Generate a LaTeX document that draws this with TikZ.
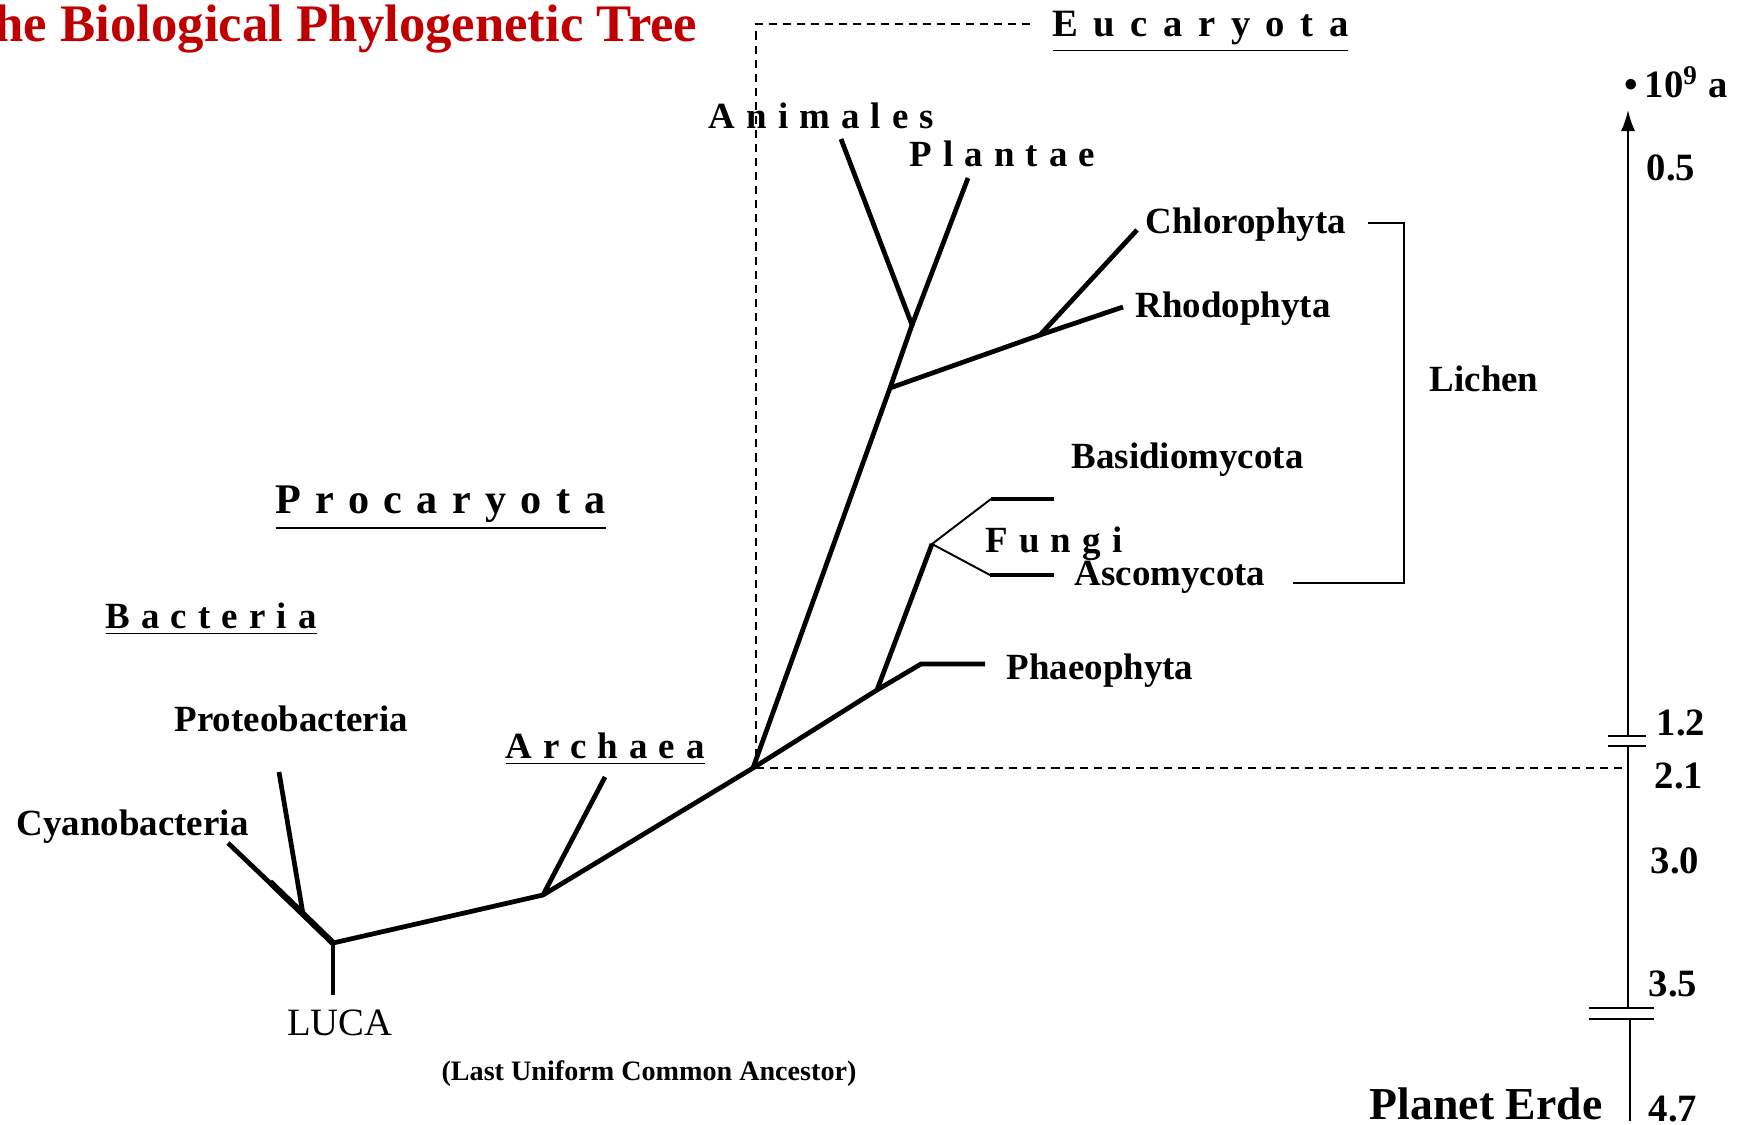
\documentclass[tikz,border=0pt]{standalone}
\usepackage{fontspec}
\setmainfont{Liberation Serif}
\usetikzlibrary{arrows.meta, positioning}
\definecolor{titlered}{RGB}{192,0,0}

\begin{document}
\begin{tikzpicture}[x=0.01cm, y=-0.01cm,
        branch/.style={line width=1.35pt},
        twig/.style={line width=0.55pt},
        guide/.style={line width=0.45pt, dash pattern=on 2.3pt off 1.7pt},
        taxon/.style={font=\fontsize{10.5}{12}\selectfont\bfseries, inner sep=0pt, anchor=base west},
        group/.style={font=\fontsize{10.5}{12}\selectfont\bfseries\addfontfeature{LetterSpace=30}, inner sep=0pt, anchor=base west},
        age/.style={font=\fontsize{11}{13}\selectfont\bfseries, inner sep=0pt, anchor=base west}]

        \useasboundingbox (0,0) rectangle (1740,1125);

        % tree points
        \coordinate (luca) at (333,943);
        \coordinate (lucastem) at (333,995);
        \coordinate (cyanotip) at (228,843);
        \coordinate (cyanofork) at (270,882);
        \coordinate (proteofork) at (303,914);
        \coordinate (proteotip) at (279,772);
        \coordinate (archfork) at (543,895);
        \coordinate (archtip) at (605,777);
        \coordinate (euroot) at (753,768);
        \coordinate (phaefork) at (877,690);
        \coordinate (phaebend) at (921,664);
        \coordinate (phaetip) at (985,664);
        \coordinate (fungifork) at (932,544);
        \coordinate (basbend) at (991,499);
        \coordinate (bastip) at (1054,499);
        \coordinate (ascbend) at (990,575);
        \coordinate (asctip) at (1054,575);
        \coordinate (eufork) at (890,388);
        \coordinate (animfork) at (912,325);
        \coordinate (animtip) at (841,139);
        \coordinate (planttip) at (968,178);
        \coordinate (rhodofork) at (1040,335);
        \coordinate (rhodotip) at (1123,307);
        \coordinate (chlorotip) at (1137,230);

        % labels
        \node [font=\fontsize{15}{18}\selectfont\bfseries, text=titlered, inner sep=0pt, anchor=base east] (title) at (698,42) {The Biological Phylogenetic Tree};
        \node [group, font=\fontsize{11}{13}\selectfont\bfseries\addfontfeature{LetterSpace=40}] (euca) at (1052,37) {\underline{Eucaryota}};
        \node [group, font=\fontsize{12}{14}\selectfont\bfseries\addfontfeature{LetterSpace=34}] (proca) at (275,514) {\underline{Procaryota}};
        \node [group] (bact) at (105,628) {\underline{Bacteria}};
        \node [group] (arch) at (505,758) {\underline{Archaea}};
        \node [group] (anim) at (708,129) {Animales};
        \node [group] (plant) at (909,167) {Plantae};
        \node [group] (fungi) at (985,552) {Fungi};
        \node [taxon] (proteo) at (174,731) {Proteobacteria};
        \node [taxon] (cyano) at (16,835) {Cyanobacteria};
        \node [taxon] (chloro) at (1145,234) {Chlorophyta};
        \node [taxon] (rhodo) at (1135,318) {Rhodophyta};
        \node [taxon] (basid) at (1071,469) {Basidiomycota};
        \node [taxon] (asco) at (1074,586) {Ascomycota};
        \node [taxon] (phaeo) at (1006,679) {Phaeophyta};
        \node [taxon] (lichen) at (1429,392) {Lichen};
        \node [font=\fontsize{11}{13}\selectfont, inner sep=0pt, anchor=base] (lucalbl) at (340,1035) {LUCA};
        \node [font=\fontsize{8}{10}\selectfont\bfseries, inner sep=0pt, anchor=base] (lucanote) at (649,1080) {(Last Uniform Common Ancestor)};
        \node [font=\fontsize{13}{15}\selectfont\bfseries, inner sep=0pt, anchor=base east] (erde) at (1603,1119) {Planet Erde};

        % tree
        \draw [branch] (cyanotip) -- (luca) -- (archfork) -- (euroot) -- (eufork) -- (animfork) -- (animtip);
        \draw [line width=1.8pt] (cyanofork) -- (luca);
        \draw [branch] (luca) -- (lucastem);
        \draw [branch] (proteotip) -- (proteofork);
        \draw [branch] (archfork) -- (archtip);
        \draw [branch] (euroot) -- (phaefork) -- (phaebend) -- (phaetip);
        \draw [branch] (phaefork) -- (fungifork);
        \draw [twig] (basbend) -- (fungifork) -- (ascbend);
        \draw [branch] (basbend) -- (bastip);
        \draw [branch] (ascbend) -- (asctip);
        \draw [branch] (animfork) -- (planttip);
        \draw [branch] (eufork) -- (rhodofork) -- (rhodotip);
        \draw [branch] (rhodofork) -- (chlorotip);

        % Eucaryota frame
        \coordinate (frametop) at (756,24);
        \coordinate (frameend) at (1032,24);
        \coordinate (axmark) at (1626,768);
        \draw [guide] (euroot) -- (756,768) -- (frametop) -- (frameend);
        \draw [guide] (756,768) -- (axmark);

        % Lichen bracket
        \draw [twig] (1368,223) -- (1404,223) -- (1404,583) -- (1293,583);

        % time axis
        \coordinate (axtop) at (1628,110);
        \coordinate (brkAhi) at (1628,736);
        \coordinate (brkAlo) at (1628,746);
        \coordinate (brkBhi) at (1628,1008);
        \coordinate (brkBlo) at (1630,1019);
        \coordinate (axbot) at (1630,1121);
        \draw [twig, -{Latex[length=6pt,width=4pt]}] (brkAhi) -- (axtop);
        \draw [twig] (brkAlo) -- (brkBhi);
        \draw [twig] (brkBlo) -- (axbot);
        \draw [twig] (1608,736) -- (1646,736) (1608,746) -- (1646,746);
        \draw [twig] (1589,1008) -- (1654,1008) (1589,1019) -- (1654,1019);

        \node [age] (unit) at (1624,98) {•\,10\textsuperscript{9} a};
        \node [age] (t05) at (1646,181) {0.5};
        \node [age] (t12) at (1656,735) {1.2};
        \node [age] (t21) at (1654,788) {2.1};
        \node [age] (t30) at (1650,873) {3.0};
        \node [age] (t35) at (1648,996) {3.5};
        \node [age] (t47) at (1648,1121) {4.7};
    \end{tikzpicture}
\end{document}
